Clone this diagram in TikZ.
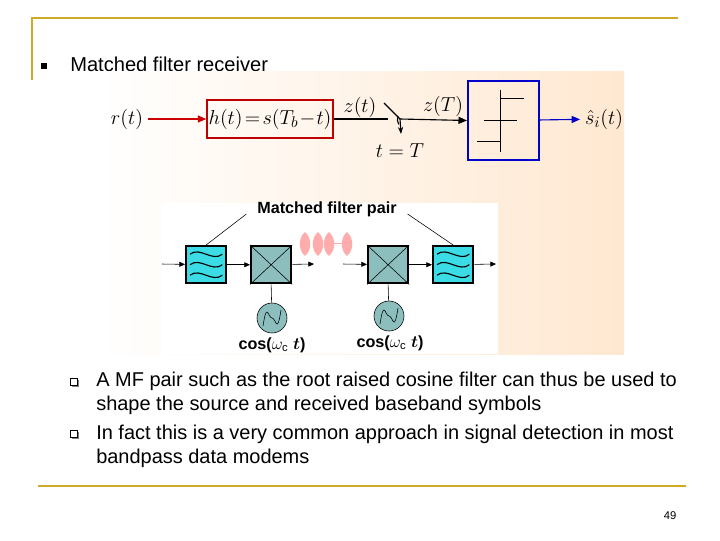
\documentclass[tikz,border=0pt]{standalone}
\usepackage{amsmath,amssymb}
\usepackage{fontspec}
\setmainfont{Liberation Sans}
\usetikzlibrary{arrows.meta,positioning,calc}
\definecolor{gold}{RGB}{205,170,40}
\definecolor{filtc}{RGB}{60,220,230}
\definecolor{mixc}{RGB}{140,190,190}
\tikzset{
    blk/.style={draw, line width=1.6pt, inner sep=0pt, anchor=north west},
    sig/.style={-{Triangle[length=6pt,width=5pt]}, thick},
    small/.style={-{Triangle[length=4pt,width=3.5pt]}, thin},
    lbl/.style={font=\fontsize{11.5}{13}\selectfont\bfseries},
    mth/.style={font=\fontsize{15}{17}\selectfont}
}
\begin{document}
\begin{tikzpicture}[x=0.025cm, y=-0.025cm]
    \useasboundingbox (0,0) rectangle (720,540);
    % frame lines
    \draw[gold, line width=1.5pt] (32,80) -- (32,18) -- (678,18);
    \draw[gold, line width=1.5pt] (38,486) -- (686,486);
    \fill (41,63) rectangle (47,69);
    \node[anchor=west, inner sep=0pt, font=\fontsize{14.3}{16}\selectfont] (title) at (70,64) {Matched filter receiver};
    % picture background
    \shade[left color=white, right color=orange!18] (96,71) rectangle (624,354);
    \fill[white] (162,203) rectangle (498,354);
    % top diagram
    \node[mth] (r) at (127,119) {$r(t)$};
    \node[mth, draw=red!75!black, line width=1.4pt, minimum width=3.1cm, minimum height=0.95cm, inner sep=1pt] (h) at (270,119) {$h(t)\!=\!s(T_b\!-\!t)$};
    \coordinate (sw) at (400,119);
    \node[draw=blue!80!black, line width=1.4pt, minimum width=1.78cm, minimum height=1.98cm] (dec) at (503.5,120.5) {};
    \node[mth] (shat) at (604,119) {$\hat{s}_i(t)$};
    \draw[sig, red!80!black] (r) -- (h);
    \draw[thick] (h.east) -- (388,119);
    \draw[thick] (384,103) -- (sw);
    \draw[thick] (398,116) arc (200:150:10);
    \draw[thick, -{Stealth[length=5pt]}] (sw) -- (401,134);
    \draw[sig] (sw) -- (dec.west);
    \node[mth] (zt) at (360,107) {$z(t)$};
    \node[mth] (zT) at (443,106) {$z(T)$};
    \node[mth] (tT) at (400,151) {$t=T$};
    \draw (500,90) -- (500,152) (500,98) -- (524,98) (484,120) -- (517,120) (477,141) -- (500,141);
    \draw[sig, blue!80!black] (dec) -- (shat);
    % matched filter pair
    \node[lbl] (pair) at (327,209) {Matched filter pair};
    \node[blk, fill=filtc, minimum width=1cm, minimum height=0.93cm] (f1) at (185,245) {};
    \node[blk, fill=mixc, minimum width=1cm, minimum height=0.93cm] (m1) at (250,245) {};
    \node[blk, fill=mixc, minimum width=1cm, minimum height=0.93cm] (m2) at (367,245) {};
    \node[blk, fill=filtc, minimum width=1cm, minimum height=0.93cm] (f2) at (432,245) {};
    \foreach \m in {m1,m2} {
        \draw (\m.north west) -- (\m.south east) (\m.north east) -- (\m.south west);
    }
    \foreach \f in {f1,f2} {
        \foreach \d in {-0.3,0,0.3} {
            \draw[thick] ($(\f.west)+(5,\d*35)$) .. controls +(10,-8) and +(-10,8) .. ($(\f.east)+(-5,\d*35)$);
        }
    }
    \node[draw, circle, fill=mixc, minimum size=0.75cm, inner sep=0pt] (o1) at (272,318) {};
    \node[draw, circle, fill=mixc, minimum size=0.75cm, inner sep=0pt] (o2) at (389,316) {};
    \foreach \o in {o1,o2} {
        \draw ($(\o)+(-9,8)$) .. controls +(4,-26) and +(-4,0) .. ($(\o)+(0,0)$) .. controls +(4,0) and +(-4,26) .. ($(\o)+(9,-8)$);
    }
    \draw (m1.south) -- (o1) (m2.south) -- (o2);
    \node[lbl] (c1) at (272,345) {cos($\omega_{\mathrm c}$ $\boldsymbol{t}$)};
    \node[lbl] (c2) at (390,343) {cos($\omega_{\mathrm c}$ $\boldsymbol{t}$)};
    \coordinate (in) at (162,264);
    \coordinate (out) at (496,264);
    \coordinate (tx) at (314,264);
    \coordinate (rx) at (343,264);
    \draw[small] (in) -- (f1);
    \draw[small] (f1) -- (m1);
    \draw[small] (m1) -- (tx);
    \draw[small] (rx) -- (m2);
    \draw[small] (m2) -- (f2);
    \draw[small] (f2) -- (out);
    \draw (pair.west) ++(-6,5) -- (f1.north);
    \draw (pair.east) ++(6,5) -- (f2.north);
    % pulses
    \draw[pink!90!red] (330,243) -- (345,243);
    \foreach \px in {305,318,329,347} {
        \fill[pink!90!red] (\px,232) .. controls (\px+7,238) and (\px+7,250) .. (\px,256) .. controls (\px-7,250) and (\px-7,238) .. (\px,232);
    }
    % bullets
    \foreach \by in {382,434} {
        \fill[gray] (72,\by-2) rectangle (79,\by+5);
        \draw[fill=white] (70,\by-4) rectangle (77,\by+3);
    }
    \node[anchor=west, align=left, inner sep=0pt, font=\fontsize{14.2}{17}\selectfont] (b1) at (96,393) {A MF pair such as the root raised cosine filter can thus be used to\\shape the source and received baseband symbols};
    \node[anchor=west, align=left, inner sep=0pt, font=\fontsize{14.2}{17}\selectfont] (b2) at (96,446) {In fact this is a very common approach in signal detection in most\\bandpass data modems};
    \node[font=\fontsize{8}{9}\selectfont] (pg) at (670,516) {49};
\end{tikzpicture}
\end{document}
